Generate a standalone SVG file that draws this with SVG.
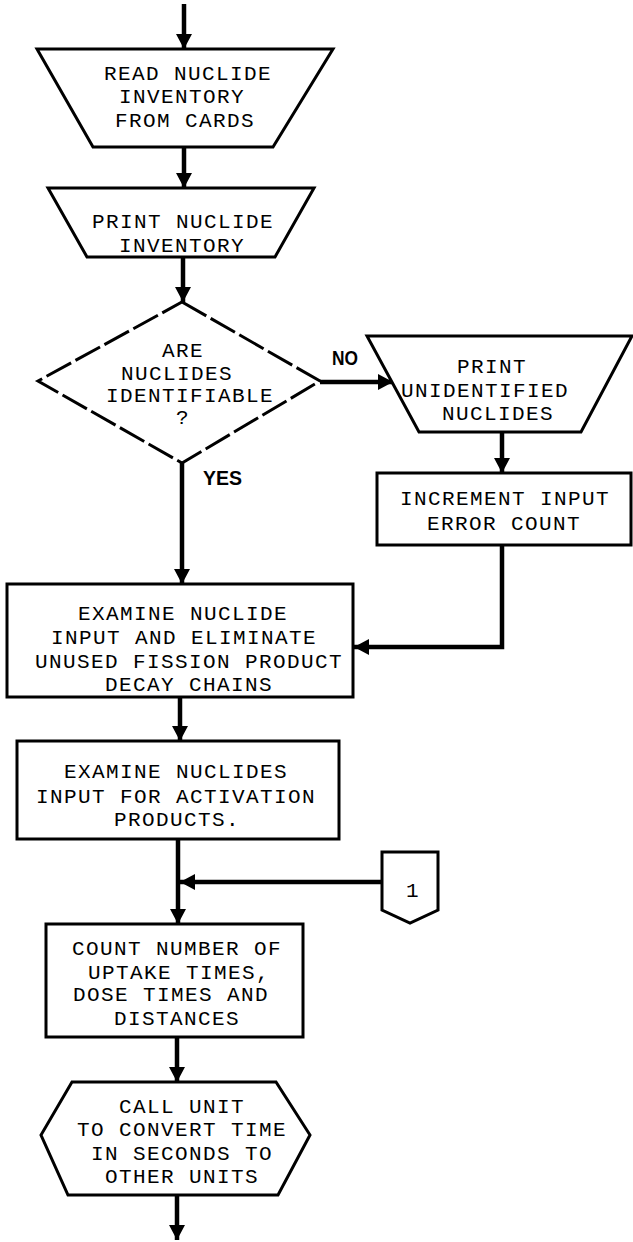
<svg xmlns="http://www.w3.org/2000/svg" width="633" height="1242" viewBox="0 0 633 1242">
<style>
.shape{fill:#fff;stroke:#000;stroke-width:3;stroke-linejoin:miter}
.dia{fill:#fff;stroke:#000;stroke-width:3;stroke-dasharray:28 5}
.t{font-family:"Liberation Mono",monospace;font-size:21px;letter-spacing:1.4px;text-anchor:middle;fill:#000}
.lbl{font-family:"Liberation Sans",Arial,sans-serif;font-size:20px;font-weight:bold;fill:#000}
.c{fill:none;stroke:#000;stroke-width:4.5}
</style>
<defs>
<marker id="ah" markerUnits="userSpaceOnUse" markerWidth="16" markerHeight="16" refX="15" refY="8" orient="auto">
<path d="M0,0 L15,8 L0,16 z" fill="#000"/>
</marker>
</defs>
<rect width="633" height="1242" fill="#fff"/>
<g id="connectors">
<path class="c" d="M184,4 V49" marker-end="url(#ah)"/>
<path class="c" d="M184,147 V188" marker-end="url(#ah)"/>
<path class="c" d="M183,257 V302" marker-end="url(#ah)"/>
<path class="c" d="M320,382 H393" marker-end="url(#ah)"/>
<path class="c" d="M502,432 V473" marker-end="url(#ah)"/>
<path class="c" d="M182,463 V584" marker-end="url(#ah)"/>
<path class="c" d="M502,545 V647 H354" marker-end="url(#ah)"/>
<path class="c" d="M180,697 V741" marker-end="url(#ah)"/>
<path class="c" d="M178,839 V924" marker-end="url(#ah)"/>
<path class="c" d="M382,882 H180" marker-end="url(#ah)"/>
<path class="c" d="M177,1037 V1082" marker-end="url(#ah)"/>
<path class="c" d="M177,1195 V1240" marker-end="url(#ah)"/>
<text class="lbl" x="332" y="365" textLength="26" lengthAdjust="spacingAndGlyphs">NO</text>
<text class="lbl" x="203" y="485" textLength="39" lengthAdjust="spacingAndGlyphs">YES</text>
</g>
<g id="read-inventory">
<polygon class="shape" points="37,49 333,49 273,147 93,147"/>
<text class="t" x="188" y="80">READ NUCLIDE</text>
<text class="t" x="182" y="103">INVENTORY</text>
<text class="t" x="185" y="127">FROM CARDS</text>
</g>
<g id="print-inventory">
<polygon class="shape" points="48,188 314,188 275,257 87,257"/>
<text class="t" x="183" y="228">PRINT NUCLIDE</text>
<text class="t" x="182" y="252">INVENTORY</text>
</g>
<g id="decision">
<polygon class="dia" points="182,302 320,381 182,463 38,381"/>
<text class="t" x="183" y="357">ARE</text>
<text class="t" x="177" y="380">NUCLIDES</text>
<text class="t" x="190" y="402">IDENTIFIABLE</text>
<text class="t" x="183" y="424">?</text>
</g>
<g id="print-unidentified">
<polygon class="shape" points="367,336 632,336 581,432 419,432"/>
<text class="t" x="492" y="373">PRINT</text>
<text class="t" x="485" y="397">UNIDENTIFIED</text>
<text class="t" x="498" y="420">NUCLIDES</text>
</g>
<g id="increment-error">
<rect class="shape" x="377" y="473" width="254" height="72"/>
<text class="t" x="505" y="505">INCREMENT INPUT</text>
<text class="t" x="504" y="530">ERROR COUNT</text>
</g>
<g id="examine-fission">
<rect class="shape" x="7" y="584" width="346" height="113"/>
<text class="t" x="183" y="620">EXAMINE NUCLIDE</text>
<text class="t" x="184" y="644">INPUT AND ELIMINATE</text>
<text class="t" x="189" y="668">UNUSED FISSION PRODUCT</text>
<text class="t" x="189" y="691">DECAY CHAINS</text>
</g>
<g id="examine-activation">
<rect class="shape" x="17" y="741" width="322" height="98"/>
<text class="t" x="176" y="778">EXAMINE NUCLIDES</text>
<text class="t" x="176" y="803">INPUT FOR ACTIVATION</text>
<text class="t" x="177" y="826">PRODUCTS.</text>
</g>
<g id="connector-1">
<polygon class="shape" points="382,852 438,852 438,910 410,923 382,910"/>
<text class="t" x="413" y="897">1</text>
</g>
<g id="count-times">
<rect class="shape" x="46" y="924" width="257" height="113"/>
<text class="t" x="177" y="955">COUNT NUMBER OF</text>
<text class="t" x="179" y="979">UPTAKE TIMES,</text>
<text class="t" x="171" y="1001">DOSE TIMES AND</text>
<text class="t" x="177" y="1025">DISTANCES</text>
</g>
<g id="call-unit">
<polygon class="shape" points="72,1082 276,1082 310,1135 278,1195 68,1195 41,1135"/>
<text class="t" x="182" y="1113">CALL UNIT</text>
<text class="t" x="182" y="1136">TO CONVERT TIME</text>
<text class="t" x="182" y="1160">IN SECONDS TO</text>
<text class="t" x="182" y="1183">OTHER UNITS</text>
</g>
</svg>
